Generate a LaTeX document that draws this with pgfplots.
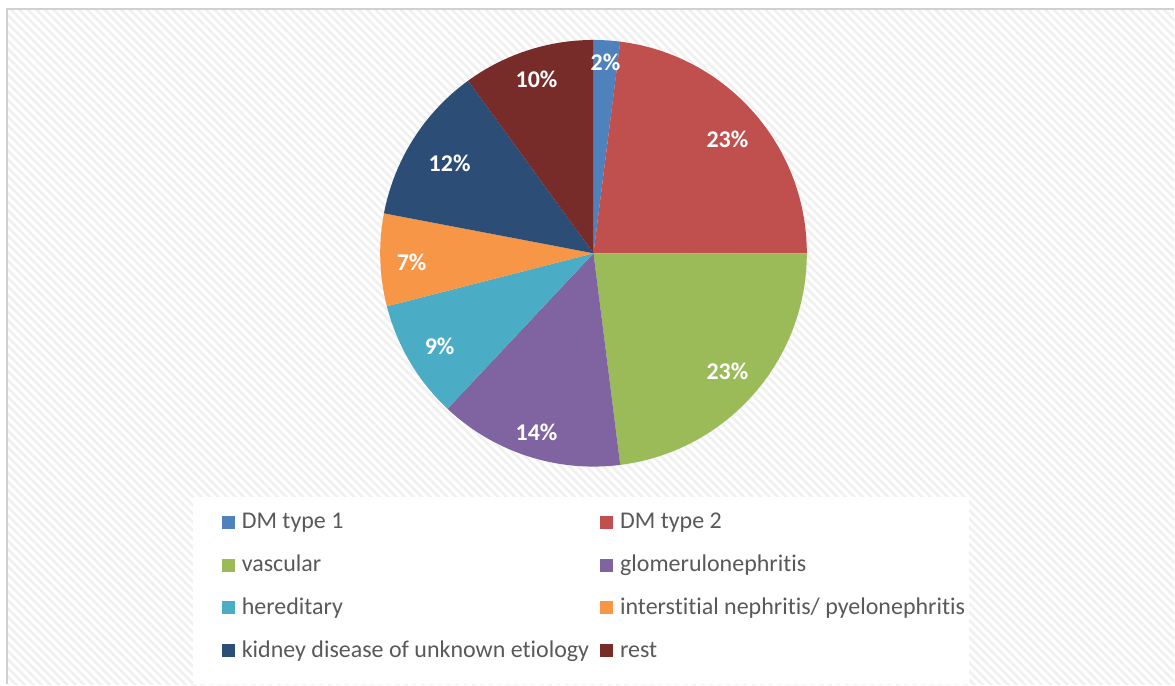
\documentclass[border=0pt]{standalone}
\usepackage{pgfplots}
\pgfplotsset{compat=1.18}
\usepackage{pgfplotstable}
\usepackage{fontspec}
\setmainfont{Carlito}[Ligatures={NoCommon}]
\usetikzlibrary{patterns.meta}

\definecolor{c0}{HTML}{4F81BD}
\definecolor{c1}{HTML}{C0504D}
\definecolor{c2}{HTML}{9BBB59}
\definecolor{c3}{HTML}{8064A2}
\definecolor{c4}{HTML}{4BACC6}
\definecolor{c5}{HTML}{F79646}
\definecolor{c6}{HTML}{2C4D75}
\definecolor{c7}{HTML}{772C2A}
\definecolor{legendgray}{HTML}{595959}
\definecolor{framegray}{HTML}{D0D0D0}

% value = share in percent; lx, ly = label position (pixel grid, y up)
\pgfplotstableread{
value lx  ly
2     606 622
23    728 545
23    728 313
14    537 252
9     440 338
7     412 422
12    450 521
10    537 605
}\piedata

\pgfplotstablegetrowsof{\piedata}
\pgfmathtruncatemacro\nrows{\pgfplotsretval-1}

\begin{document}
\begin{tikzpicture}
\begin{axis}[
  width=587.5pt, height=342.5pt, scale only axis,
  xmin=0, xmax=1175, ymin=0, ymax=685,
  hide axis, clip=false,
  legend columns=2,
  legend cell align=left,
  legend image code/.code={\fill[#1] (0pt,0pt) rectangle (6.5pt,6.5pt);},
  legend style={at={(axis cs:222,172)}, anchor=north west, draw=none, fill=none,
    inner sep=0pt, outer sep=0pt,
    font=\fontsize{12}{14}\selectfont, text=legendgray,
    row sep=11pt,
    nodes={inner sep=0pt, text height=8pt, text depth=2.5pt, anchor=base west},
    /tikz/every odd column/.append style={column sep=3.5pt},
    /tikz/every even column/.append style={column sep=5.5pt}},
]
% background
\fill[white] (axis cs:0,0) rectangle (axis cs:1175,685);
\fill[pattern={Lines[angle=-45,distance=3pt,line width=1.3pt]}, pattern color=black!6]
  (axis cs:8,0) rectangle (axis cs:1175,675);
\draw[framegray, line width=1pt] (axis cs:7.5,0) -- (axis cs:7.5,675.5) -- (axis cs:1175,675.5);
% legend backdrop
\fill[white] (axis cs:193,188) rectangle (axis cs:970,0);

% pie wedges
\def\cum{0}
\pgfplotsforeachungrouped \i in {0,...,\nrows}{%
  \pgfplotstablegetelem{\i}{value}\of\piedata
  \pgfmathsetmacro\sa{90-3.6*\cum}%
  \pgfmathsetmacro\cum{\cum+\pgfplotsretval}%
  \pgfmathsetmacro\ea{90-3.6*\cum}%
  \edef\mywedge{\noexpand\fill[c\i] (axis cs:594,431.5) -- ++(\sa:106.75pt) arc[start angle=\sa, end angle=\ea, radius=106.75pt] -- cycle;}%
  \mywedge
}

% data labels
\addplot[draw=none, mark=none, forget plot, point meta=explicit,
  nodes near coords={\pgfmathprintnumber[assume math mode=true]{\pgfplotspointmeta}\%},
  nodes near coords style={anchor=center, text=white, font=\fontsize{12}{14}\selectfont\bfseries,
    inner sep=0pt, text height=7.7pt, text depth=0pt}]
  table[x=lx, y=ly, meta=value] {\piedata};

\addlegendimage{fill=c0, draw=none}\addlegendentry{DM type 1}
\addlegendimage{fill=c1, draw=none}\addlegendentry{DM type 2}
\addlegendimage{fill=c2, draw=none}\addlegendentry{vascular}
\addlegendimage{fill=c3, draw=none}\addlegendentry{glomerulonephritis}
\addlegendimage{fill=c4, draw=none}\addlegendentry{hereditary}
\addlegendimage{fill=c5, draw=none}\addlegendentry{interstitial nephritis/ pyelonephritis}
\addlegendimage{fill=c6, draw=none}\addlegendentry{kidney disease of unknown etiology}
\addlegendimage{fill=c7, draw=none}\addlegendentry{rest}
\end{axis}
\end{tikzpicture}
\end{document}
